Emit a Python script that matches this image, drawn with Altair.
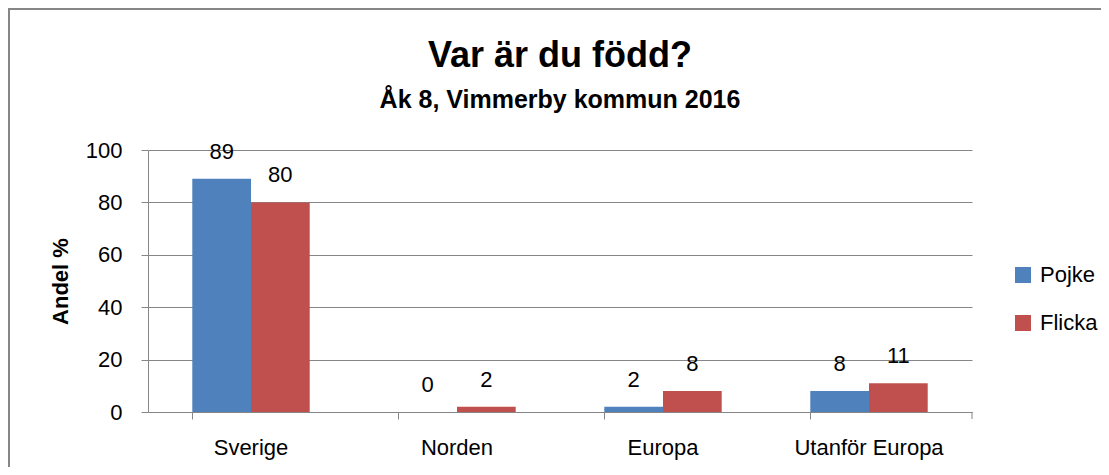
import altair as alt
import pandas as pd

categories = ["Sverige", "Norden", "Europa", "Utanför Europa"]
series = ["Pojke", "Flicka"]
pojke = [89, 0, 2, 8]
flicka = [80, 2, 8, 11]
colors = ["#4F81BD", "#C0504D"]
y_ticks = [0, 20, 40, 60, 80, 100]

rows = []
for c, p, f in zip(categories, pojke, flicka):
    rows.append({"kategori": c, "kon": "Pojke", "andel": p})
    rows.append({"kategori": c, "kon": "Flicka", "andel": f})
df = pd.DataFrame(rows)

FONT = "Liberation Sans"
GRAY = "#868686"
W, H = 824, 262

base = alt.Chart(df)

x_enc = alt.X(
    "kategori:N",
    sort=categories,
    title=None,
    scale=alt.Scale(paddingInner=0.43, paddingOuter=0.215),
    axis=alt.Axis(
        bandPosition=0,
        tickSize=7,
        tickColor=GRAY,
        domainColor=GRAY,
        labelFont=FONT,
        labelFontSize=22,
        labelColor="black",
        labelPadding=18,
        labelAngle=0,
        grid=False,
    ),
)
xoff = alt.XOffset(
    "kon:N",
    sort=series,
    scale=alt.Scale(paddingInner=0, paddingOuter=0),
)
y_enc = alt.Y(
    "andel:Q",
    title="Andel %",
    scale=alt.Scale(domain=[0, 100], nice=False),
    axis=alt.Axis(
        values=y_ticks,
        tickSize=7,
        tickColor=GRAY,
        domainColor=GRAY,
        gridColor=GRAY,
        grid=True,
        labelFont=FONT,
        labelFontSize=22,
        labelColor="black",
        labelPadding=19,
        titleFont=FONT,
        titleFontSize=22,
        titleFontWeight="bold",
        titleColor="black",
        titlePadding=13,
    ),
)

bars = base.mark_bar().encode(
    x=x_enc,
    xOffset=xoff,
    y=y_enc,
    color=alt.Color(
        "kon:N",
        sort=series,
        scale=alt.Scale(domain=series, range=colors),
        legend=alt.Legend(
            title=None,
            orient="none",
            legendX=864,
            legendY=114,
            symbolType="square",
            symbolSize=256,
            symbolStrokeWidth=0,
            labelFont=FONT,
            labelFontSize=22,
            labelColor="black",
            labelOffset=6,
            rowPadding=26,
            padding=0,
        ),
    ),
)

labels = base.mark_text(
    font=FONT, fontSize=22, color="black", baseline="alphabetic", dy=-20
).encode(
    x=alt.X("kategori:N", sort=categories),
    xOffset=alt.XOffset("kon:N", sort=series),
    y=alt.Y("andel:Q"),
    text=alt.Text("andel:Q"),
)

one = alt.Data(values=[{"k": 1}])
end_tick = alt.Chart(one).mark_rule(color=GRAY, strokeWidth=1).encode(
    x=alt.value(W), y=alt.value(H), y2=alt.value(H + 7)
)
border = alt.Chart(one).mark_rect(
    fill="transparent", stroke=GRAY, strokeWidth=2
).encode(
    x=alt.value(-139), x2=alt.value(1200), y=alt.value(-141), y2=alt.value(600)
)

chart = (
    alt.layer(bars, labels, end_tick, border)
    .properties(
        width=W,
        height=H,
        autosize=alt.AutoSizeParams(type="none"),
        padding={"left": 140, "top": 142, "right": 129, "bottom": 55},
        title=alt.TitleParams(
            text="Var är du född?",
            subtitle="Åk 8, Vimmerby kommun 2016",
            font=FONT,
            fontSize=36,
            fontWeight="bold",
            color="black",
            subtitleFont=FONT,
            subtitleFontSize=25,
            subtitleFontWeight="bold",
            subtitleColor="black",
            subtitlePadding=13,
            anchor="middle",
            frame="group",
            offset=-106,
        ),
        background="white",
    )
    .configure_view(stroke=None)
)

chart.save("out.html", embed_options={"renderer": "svg", "actions": False})
